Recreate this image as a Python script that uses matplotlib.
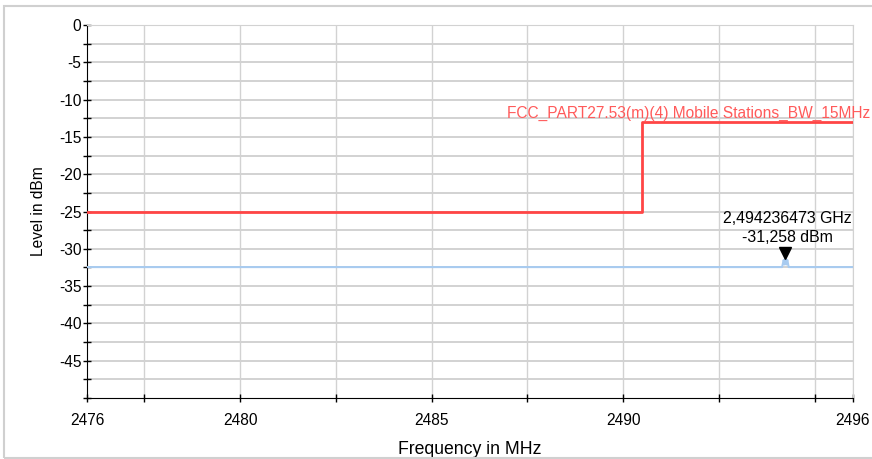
import matplotlib
matplotlib.use("Agg")
import matplotlib.pyplot as plt
from matplotlib.patches import Rectangle
from matplotlib.transforms import offset_copy

plt.rcParams['font.family'] = ['Liberation Sans', 'DejaVu Sans']

# ------------------------------------------------------------
# data
# ------------------------------------------------------------
limitFreq = [2476.0, 2490.5, 2490.5, 2496.0]
limitLevel = [-25.0, -25.0, -13.0, -13.0]
limitName = "FCC_PART27.53(m)(4) Mobile Stations_BW_15MHz"

traceFreq = [2476.0, 2494.15, 2494.19, 2494.215, 2494.236, 2494.26, 2494.285, 2494.32, 2496.0]
traceLevel = [-32.45, -32.45, -31.5, -32.1, -31.258, -32.1, -31.5, -32.45, -32.45]

markerFreq = 2494.236473
markerLevel = -31.258
markerLines = ["2,494236473 GHz", "-31,258 dBm"]

xTickLabels = [2476, 2480, 2485, 2490, 2496]
xTicks = [2476, 2477.5, 2480, 2482.5, 2485, 2487.5, 2490, 2492.5, 2495, 2496]
yTickLabels = [0, -5, -10, -15, -20, -25, -30, -35, -40, -45]
yTicks = [-2.5 * i for i in range(21)]

W, H = 872, 459
fig = plt.figure(figsize=(W / 100, H / 100), dpi=100)
ax = fig.add_axes([87 / W, 1 - 398 / H, (853 - 87) / W, (398 - 25) / H])

gridColor = "#d2d2d2"
ax.set_xlim(2476, 2496)
ax.set_ylim(-50, 0)

ax.set_xticks(xTicks)
ax.set_xticklabels([str(t) if t in xTickLabels else "" for t in xTicks])
ax.set_yticks(yTicks)
ax.set_yticklabels([str(int(t)) if t in yTickLabels else "" for t in yTicks])
ax.tick_params(axis="both", direction="inout", length=6, width=1, labelsize=11.2, colors="black")
ax.tick_params(axis="x", pad=8)
ax.tick_params(axis="y", pad=1)

for v in xTicks[1:]:
    ax.axvline(v, color=gridColor, lw=1.0, zorder=0)
for v in yTicks[:-1]:
    ax.axhline(v, color=gridColor, lw=1.4, zorder=0)

ax.spines["top"].set_color(gridColor)
ax.spines["right"].set_color(gridColor)
ax.spines["left"].set_color("black")
ax.spines["bottom"].set_color("black")

ax.plot(traceFreq, traceLevel, color="#a8cbf0", lw=1.5, zorder=3)
ax.plot(limitFreq, limitLevel, color="#ff4545", lw=2, zorder=4)
ax.text(2486.97, -12.45, limitName, color="#ff5a5a", fontsize=11.2,
        ha="left", va="baseline", clip_on=False)

# marker triangle and readout
mTrans = offset_copy(ax.transData, fig=fig, y=5, units="dots")
ax.plot([markerFreq], [markerLevel], marker="v", color="black", markersize=9,
        transform=mTrans, zorder=5, clip_on=False)
for i, line in enumerate(markerLines):
    t = offset_copy(ax.transData, fig=fig, x=1.5, y=39.5 - 19 * i, units="dots")
    ax.text(markerFreq, markerLevel, line, transform=t, ha="center", va="center",
            fontsize=11.4, color="black", zorder=6)

ax.set_xlabel("Frequency in MHz", fontsize=12.7)
ax.xaxis.set_label_coords(0.5, -(449 - 398) / 373)
ax.xaxis.label.set_va("center")
ax.set_ylabel("Level in dBm", fontsize=11.2)
ax.yaxis.set_label_coords(-(87 - 38) / 766, 0.5)
ax.yaxis.label.set_va("center")

# outer frame (runs off the right edge like the reference crop)
fig.patches.append(Rectangle((4 / W, 1 - 458 / H), (880 - 4) / W, (458 - 6) / H,
                             transform=fig.transFigure, fill=False,
                             edgecolor="#d0d0d0", lw=1.5))

fig.savefig("out.png", dpi=100)
